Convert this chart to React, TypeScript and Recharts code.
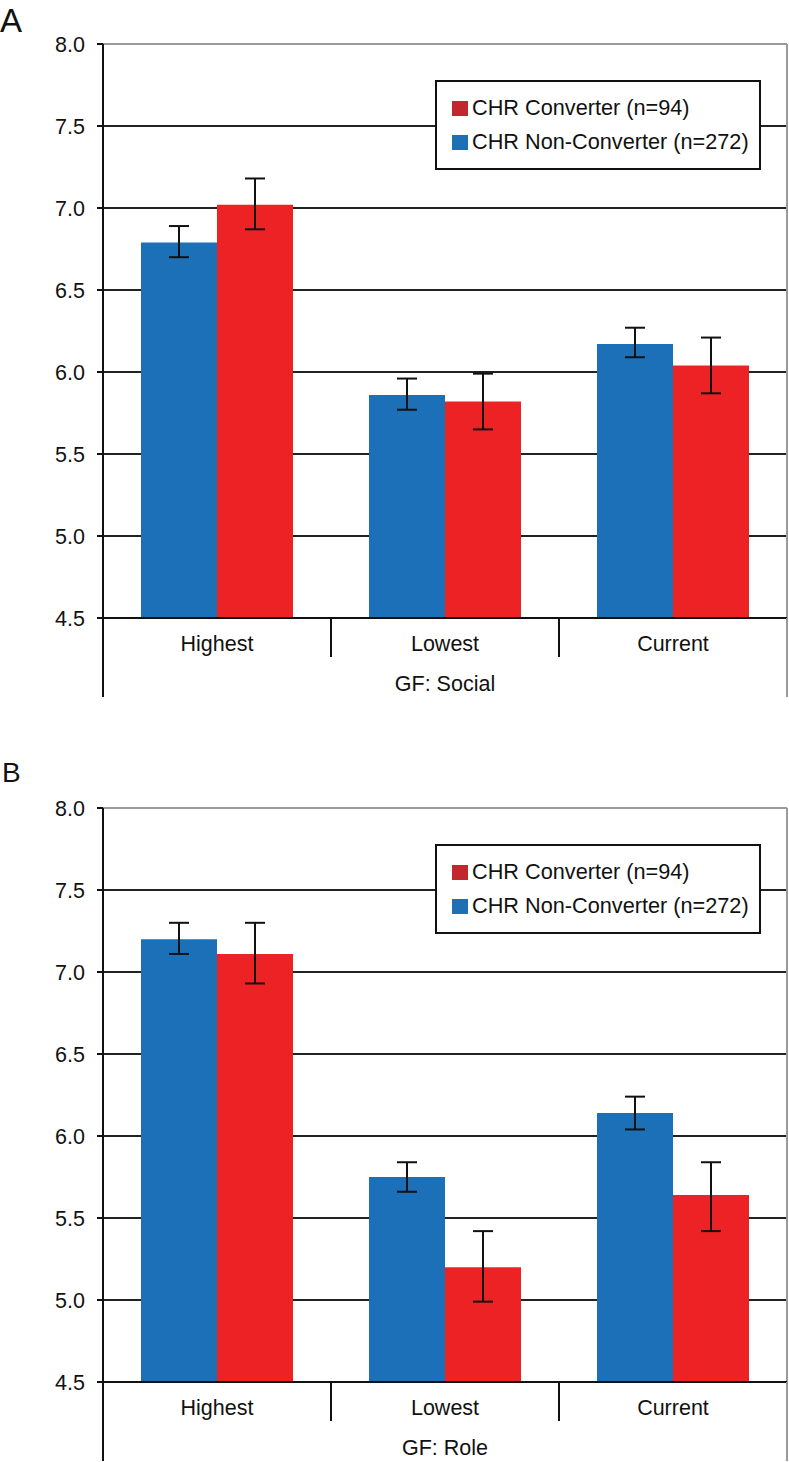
import React from 'react';
import { BarChart, Bar, XAxis, YAxis, CartesianGrid, ErrorBar, Legend, ReferenceLine } from 'recharts';

const categories = ['Highest', 'Lowest', 'Current'];
const yTicks = [4.5, 5.0, 5.5, 6.0, 6.5, 7.0, 7.5, 8.0];

// Panel A: GF Social
const socialNonConv = [6.79, 5.86, 6.17];
const socialNonConvLow = [6.70, 5.77, 6.09];
const socialNonConvHigh = [6.89, 5.96, 6.27];
const socialConv = [7.02, 5.82, 6.04];
const socialConvLow = [6.87, 5.65, 5.87];
const socialConvHigh = [7.18, 5.99, 6.21];

// Panel B: GF Role
const roleNonConv = [7.20, 5.75, 6.14];
const roleNonConvLow = [7.11, 5.66, 6.04];
const roleNonConvHigh = [7.30, 5.84, 6.24];
const roleConv = [7.11, 5.20, 5.64];
const roleConvLow = [6.93, 4.99, 5.42];
const roleConvHigh = [7.30, 5.42, 5.84];

const FONT = '"Liberation Sans", Arial, Helvetica, sans-serif';
const BLUE = '#1c70b7';
const RED = '#ed2224';
const LEGEND_COLORS: Record<string, string> = { converter: '#c1272d', nonConverter: '#1f6fb5' };
const LEGEND_ORDER = ['converter', 'nonConverter'];

function buildRows(nc: number[], ncL: number[], ncH: number[], c: number[], cL: number[], cH: number[]) {
  return categories.map((cat, i) => ({
    category: cat,
    nonConverter: nc[i],
    nonConverterErr: [+(nc[i] - ncL[i]).toFixed(3), +(ncH[i] - nc[i]).toFixed(3)],
    converter: c[i],
    converterErr: [+(c[i] - cL[i]).toFixed(3), +(cH[i] - c[i]).toFixed(3)],
  }));
}

const socialRows = buildRows(socialNonConv, socialNonConvLow, socialNonConvHigh, socialConv, socialConvLow, socialConvHigh);
const roleRows = buildRows(roleNonConv, roleNonConvLow, roleNonConvHigh, roleConv, roleConvLow, roleConvHigh);

const CHART_W = 789;
const CHART_H = 700;
const MARGIN = { top: 44, right: 2, left: 0, bottom: 2 };
const Y_AXIS_W = 103;
const X_AXIS_H = 80;
const PLOT_W = CHART_W - MARGIN.left - MARGIN.right - Y_AXIS_W;
const TICK_FS = 21.5;

const CategoryTick = (props: any) => {
  const { x, y, payload, index, visibleTicksCount } = props;
  const count = visibleTicksCount || categories.length;
  const axisW = typeof props.width === 'number' && props.width > 0 ? props.width : PLOT_W;
  const half = axisW / count / 2;
  const left = x - half;
  const right = x + half;
  return (
    <g>
      <text x={x} y={y + 33} textAnchor="middle" fontFamily={FONT} fontSize={TICK_FS} fill="#111">
        {payload.value}
      </text>
      {index === 0 ? (
        <line x1={left} y1={y} x2={left} y2={y + 79} stroke="#111" strokeWidth={2} />
      ) : (
        <line x1={left} y1={y} x2={left} y2={y + 39} stroke="#111" strokeWidth={2} />
      )}
      {index === count - 1 && (
        <line x1={right} y1={y} x2={right} y2={y + 79} stroke="#9a9a9a" strokeWidth={2} />
      )}
    </g>
  );
};

const LegendBox = (props: any) => {
  const items = [...(props.payload || [])].sort(
    (a: any, b: any) => LEGEND_ORDER.indexOf(a.dataKey) - LEGEND_ORDER.indexOf(b.dataKey)
  );
  return (
    <div
      style={{
        border: '2px solid #111',
        background: '#fff',
        padding: '9px 6px 9px 15px',
        fontFamily: FONT,
        fontSize: 21.7,
        color: '#111',
        boxSizing: 'border-box',
        width: 326,
      }}
    >
      {items.map((it: any) => (
        <div key={it.dataKey} style={{ display: 'flex', alignItems: 'center', height: 34, whiteSpace: 'nowrap' }}>
          <span
            style={{
              display: 'inline-block',
              width: 16,
              height: 15,
              marginRight: 4,
              background: LEGEND_COLORS[it.dataKey] || it.color,
            }}
          />
          {it.value}
        </div>
      ))}
    </div>
  );
};

function Panel({ rows, title }: { rows: any[]; title: string }) {
  return (
    <BarChart width={CHART_W} height={CHART_H} data={rows} margin={MARGIN} barCategoryGap="16.67%" barGap={0}>
      <CartesianGrid vertical={false} stroke="#222" strokeWidth={2} />
      <CartesianGrid
        horizontal={false}
        stroke="#9a9a9a"
        strokeWidth={2}
        verticalCoordinatesGenerator={(p: any) => [p.offset.left + p.offset.width]}
      />
      <ReferenceLine y={8} stroke="#9a9a9a" strokeWidth={2} />
      <YAxis
        type="number"
        domain={[4.5, 8]}
        ticks={yTicks}
        width={Y_AXIS_W}
        tickFormatter={(v: number) => v.toFixed(1)}
        axisLine={{ stroke: '#111', strokeWidth: 2 }}
        tickLine={{ stroke: '#111', strokeWidth: 2 }}
        tickSize={6}
        tickMargin={12}
        tick={{ fontFamily: FONT, fontSize: TICK_FS, fill: '#111' }}
        interval={0}
      />
      <XAxis
        dataKey="category"
        height={X_AXIS_H}
        axisLine={{ stroke: '#111', strokeWidth: 2 }}
        tickLine={false}
        tickSize={0}
        tickMargin={0}
        interval={0}
        tick={<CategoryTick />}
        label={{ value: title, position: 'insideBottom', offset: 7, fontFamily: FONT, fontSize: TICK_FS, fill: '#111' }}
      />
      <Legend
        layout="horizontal"
        verticalAlign="middle"
        align="center"
        content={<LegendBox />}
        wrapperStyle={{ position: 'absolute', left: 435, top: 80, width: 326 }}
      />
      <Bar dataKey="nonConverter" name="CHR Non-Converter (n=272)" fill={BLUE} isAnimationActive={false}>
        <ErrorBar dataKey="nonConverterErr" width={10} stroke="#111" strokeWidth={2} direction="y" />
      </Bar>
      <Bar dataKey="converter" name="CHR Converter (n=94)" fill={RED} isAnimationActive={false}>
        <ErrorBar dataKey="converterErr" width={10} stroke="#111" strokeWidth={2} direction="y" />
      </Bar>
    </BarChart>
  );
}

export default function App() {
  return (
    <div style={{ position: 'absolute', left: 0, top: 0, width: 789, height: 1462, background: '#fff', overflow: 'hidden' }}>
      <div style={{ position: 'absolute', left: 0, top: 4, fontFamily: FONT, fontSize: 33, lineHeight: 1, color: '#111' }}>A</div>
      <div style={{ position: 'absolute', left: 0, top: 0 }}>
        <Panel rows={socialRows} title="GF: Social" />
      </div>
      <div style={{ position: 'absolute', left: 2, top: 759, fontFamily: FONT, fontSize: 28, lineHeight: 1, color: '#111' }}>B</div>
      <div style={{ position: 'absolute', left: 0, top: 764 }}>
        <Panel rows={roleRows} title="GF: Role" />
      </div>
    </div>
  );
}
